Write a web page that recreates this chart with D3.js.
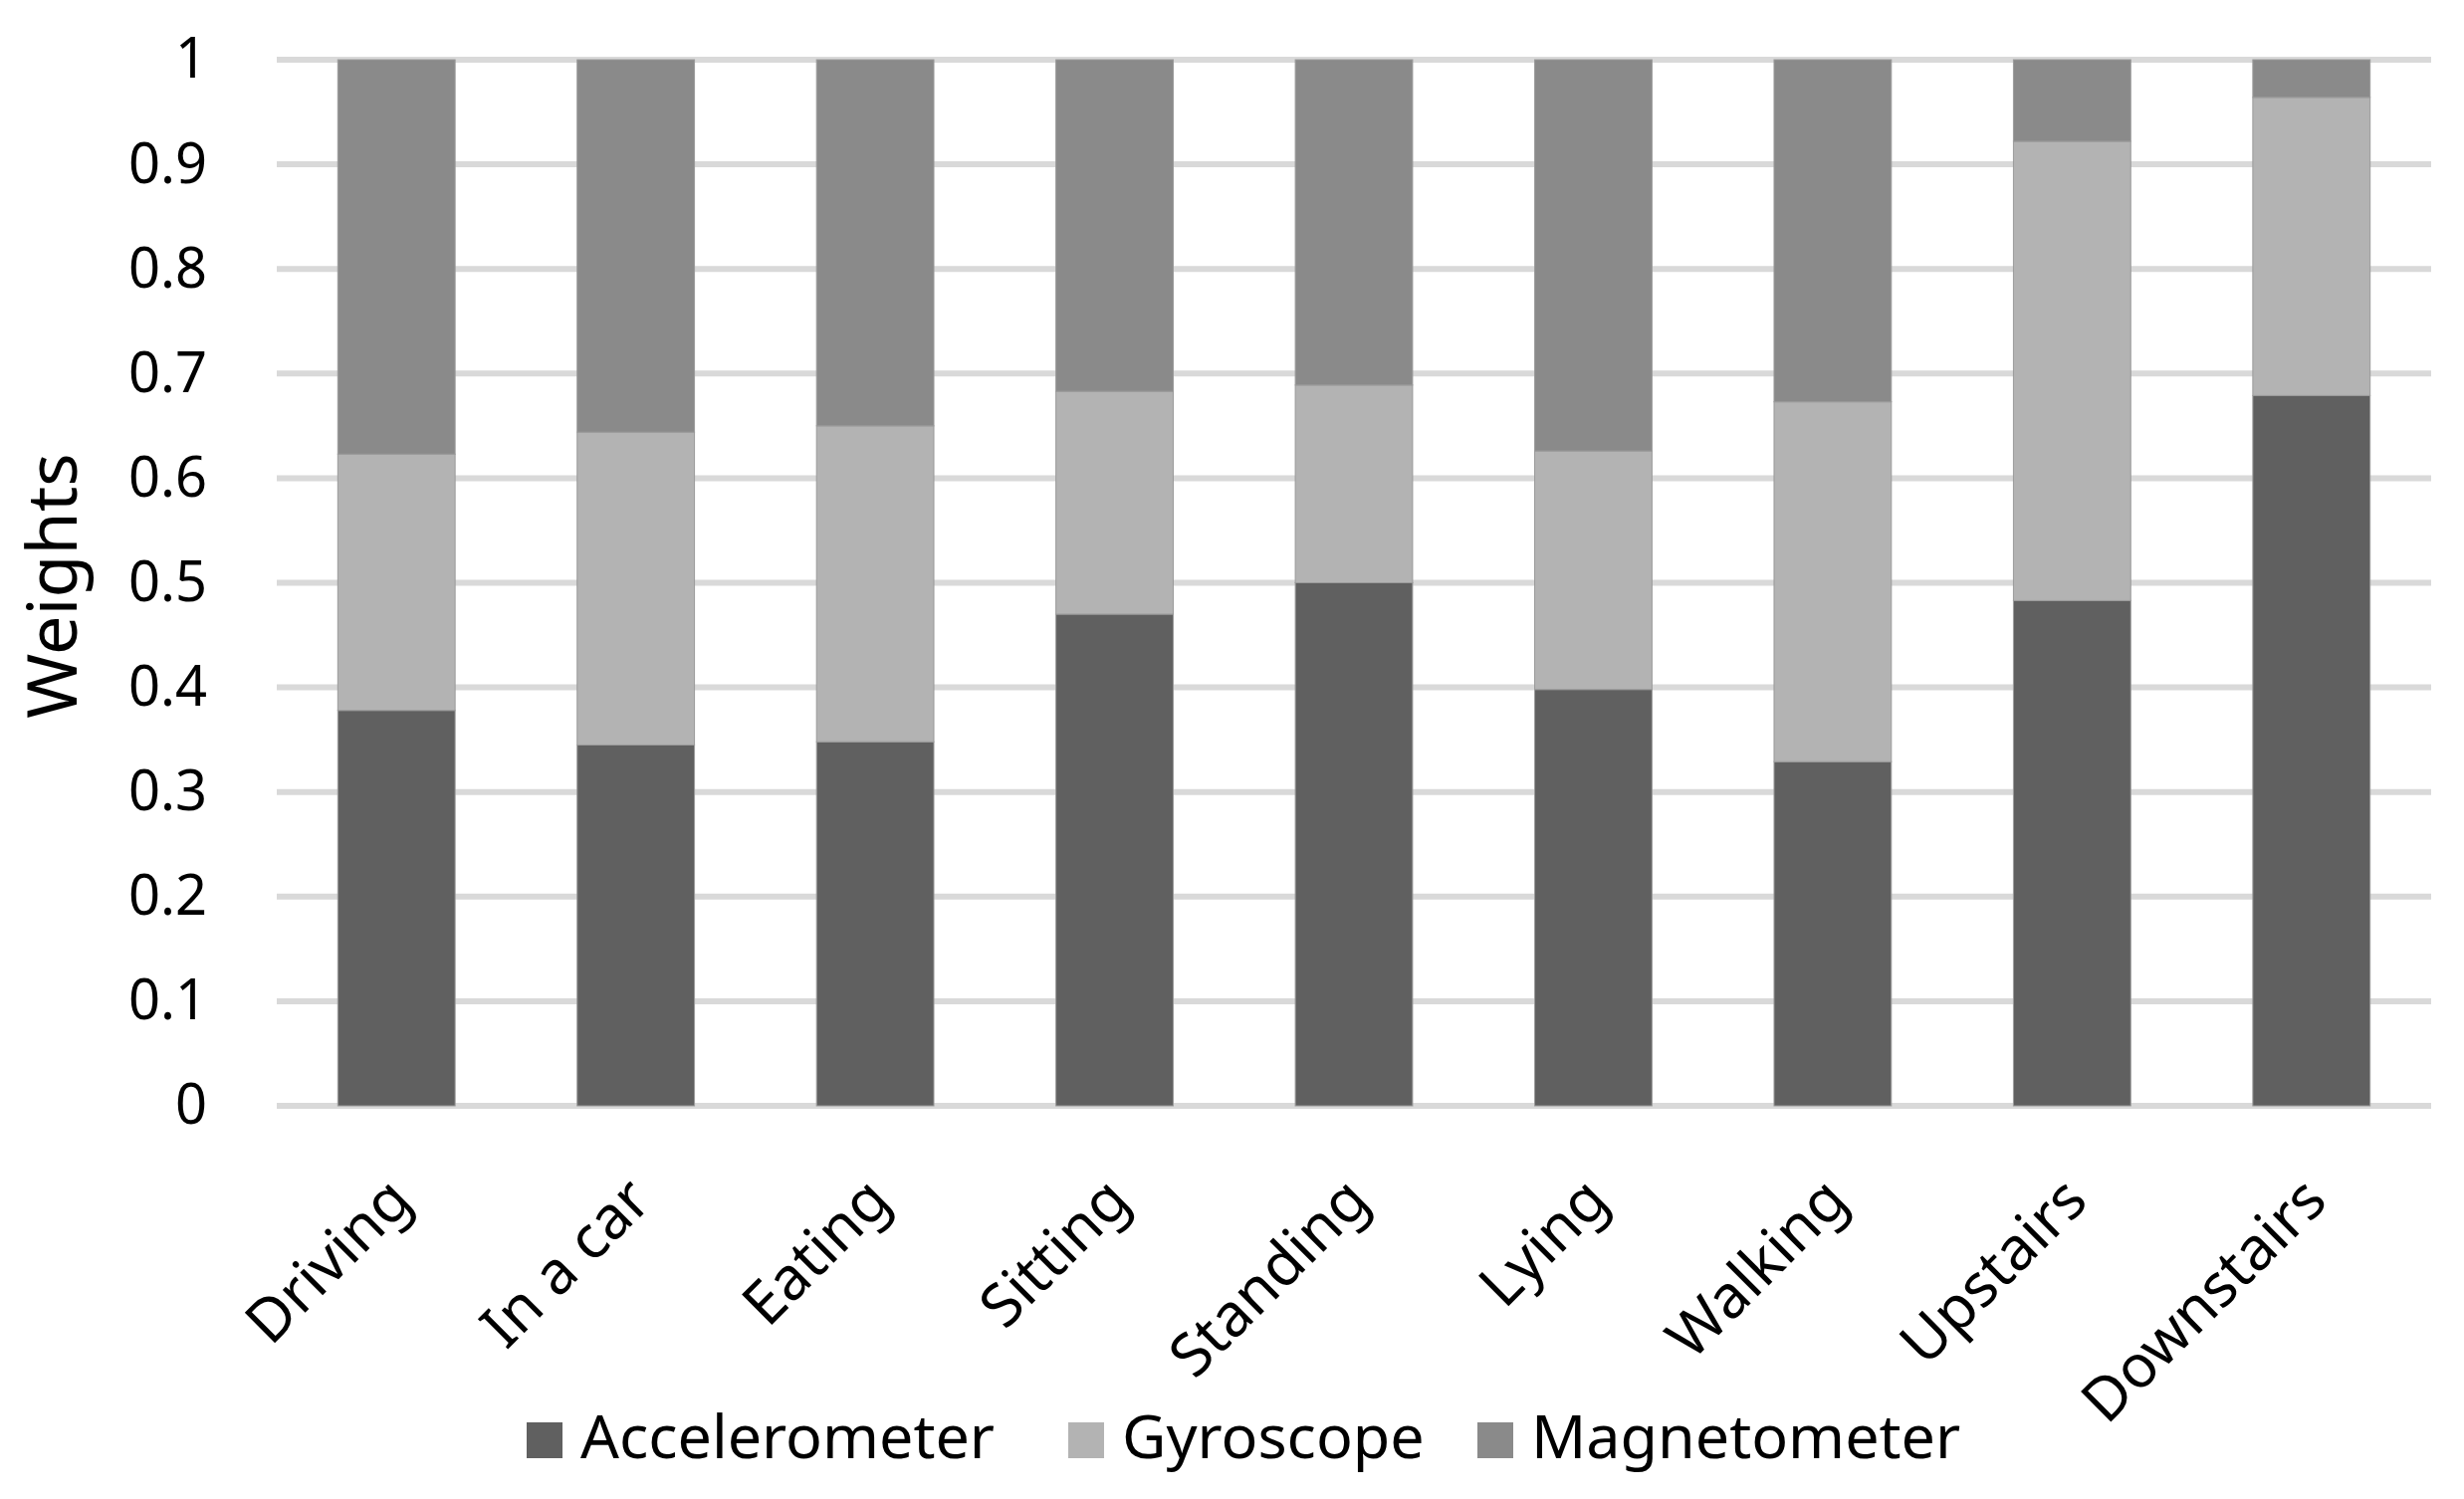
<!DOCTYPE html>
<html>
<head>
<meta charset="utf-8">
<script src="https://cdn.jsdelivr.net/npm/d3@7"></script>
<style>
  body { margin: 0; background: #fff; }
  text { font-family: "Noto Sans", "Open Sans", sans-serif; fill: #000; }
</style>
</head>
<body>
<div id="chart"></div>
<script>
// activities on the x axis
let activities = ["Driving", "In a car", "Eating", "Sitting", "Standing", "Lying", "Walking", "Upstairs", "Downstairs"];
// per-sensor weights
let accelerometer = [0.378, 0.345, 0.348, 0.470, 0.500, 0.398, 0.329, 0.483, 0.679];
let gyroscope     = [0.245, 0.299, 0.302, 0.213, 0.189, 0.228, 0.344, 0.439, 0.285];
let magnetometer  = [0.377, 0.356, 0.350, 0.317, 0.311, 0.374, 0.327, 0.078, 0.036];
let sensors = ["Accelerometer", "Gyroscope", "Magnetometer"];
let yTicks = [0, 0.1, 0.2, 0.3, 0.4, 0.5, 0.6, 0.7, 0.8, 0.9, 1];

function graph(id) {
	let width = 2475, height = 1506;
	let colours = {"Accelerometer": "#606060", "Gyroscope": "#b3b3b3", "Magnetometer": "#8a8a8a"};
	let plot = {left: 278, right: 2442, top: 60, bottom: 1111};

	let rows = activities.map((a, i) => ({
		activity: a,
		Accelerometer: accelerometer[i],
		Gyroscope: gyroscope[i],
		Magnetometer: magnetometer[i]
	}));

	let x = d3.scaleBand()
		.domain(activities)
		.range([plot.left, plot.right])
		.paddingInner(0.51)
		.paddingOuter(0.255);
	let y = d3.scaleLinear().domain([0, 1]).range([plot.bottom, plot.top]);

	let svg = d3.select(id).append("svg")
		.attr("width", width)
		.attr("height", height);

	// gridlines
	svg.append("g")
		.selectAll("line")
		.data(yTicks).enter()
		.append("line")
		.attr("x1", plot.left)
		.attr("x2", plot.right)
		.attr("y1", d => y(d))
		.attr("y2", d => y(d))
		.attr("stroke", "#d9d9d9")
		.attr("stroke-width", 6);

	// y tick labels
	let yAxis = svg.append("g")
		.attr("transform", `translate(${plot.left - 70},0)`)
		.call(d3.axisLeft(y).tickValues(yTicks).tickSize(0).tickPadding(0).tickFormat(d3.format("~g")));
	yAxis.select(".domain").remove();
	yAxis.selectAll("text")
		.style("font-size", "56px")
		.style("font-family", "'Noto Sans', sans-serif")
		.attr("fill", "#000");

	// stacked bars
	let stack = d3.stack().keys(sensors)(rows);
	svg.append("g")
		.selectAll("g")
		.data(stack).enter()
		.append("g")
		.attr("fill", d => colours[d.key])
		.selectAll("rect")
		.data(d => d).enter()
		.append("rect")
		.attr("x", d => x(d.data.activity))
		.attr("width", x.bandwidth())
		.attr("y", d => y(d[1]))
		.attr("height", d => y(d[0]) - y(d[1]))
		.attr("stroke", "#9a9a9a")
		.attr("stroke-width", 1);

	// x labels, rotated
	let xAxis = svg.append("g")
		.attr("transform", `translate(0,${plot.bottom})`)
		.call(d3.axisBottom(x).tickSize(0).tickPadding(0));
	xAxis.select(".domain").remove();
	xAxis.selectAll("text")
		.attr("text-anchor", "end")
		.attr("dy", 0)
		.attr("transform", "translate(18,98) rotate(-45)")
		.style("font-size", "60px")
		.style("font-family", "'Noto Sans', sans-serif")
		.attr("fill", "#000");

	// y title
	svg.append("text")
		.attr("transform", `translate(77,${(plot.top + plot.bottom) / 2 + 3}) rotate(-90)`)
		.attr("text-anchor", "middle")
		.style("font-size", "70px")
		.text("Weights");

	// legend
	let legendX = [529, 1073, 1484];
	let legend = svg.append("g")
		.selectAll("g")
		.data(sensors).enter()
		.append("g")
		.attr("transform", (d, i) => `translate(${legendX[i]},1429)`);
	legend.append("rect")
		.attr("width", 36)
		.attr("height", 36)
		.attr("fill", d => colours[d]);
	legend.append("text")
		.attr("x", 54)
		.attr("y", 36)
		.style("font-size", "61px")
		.text(d => d);
}

graph("#chart");
</script>
</body>
</html>
